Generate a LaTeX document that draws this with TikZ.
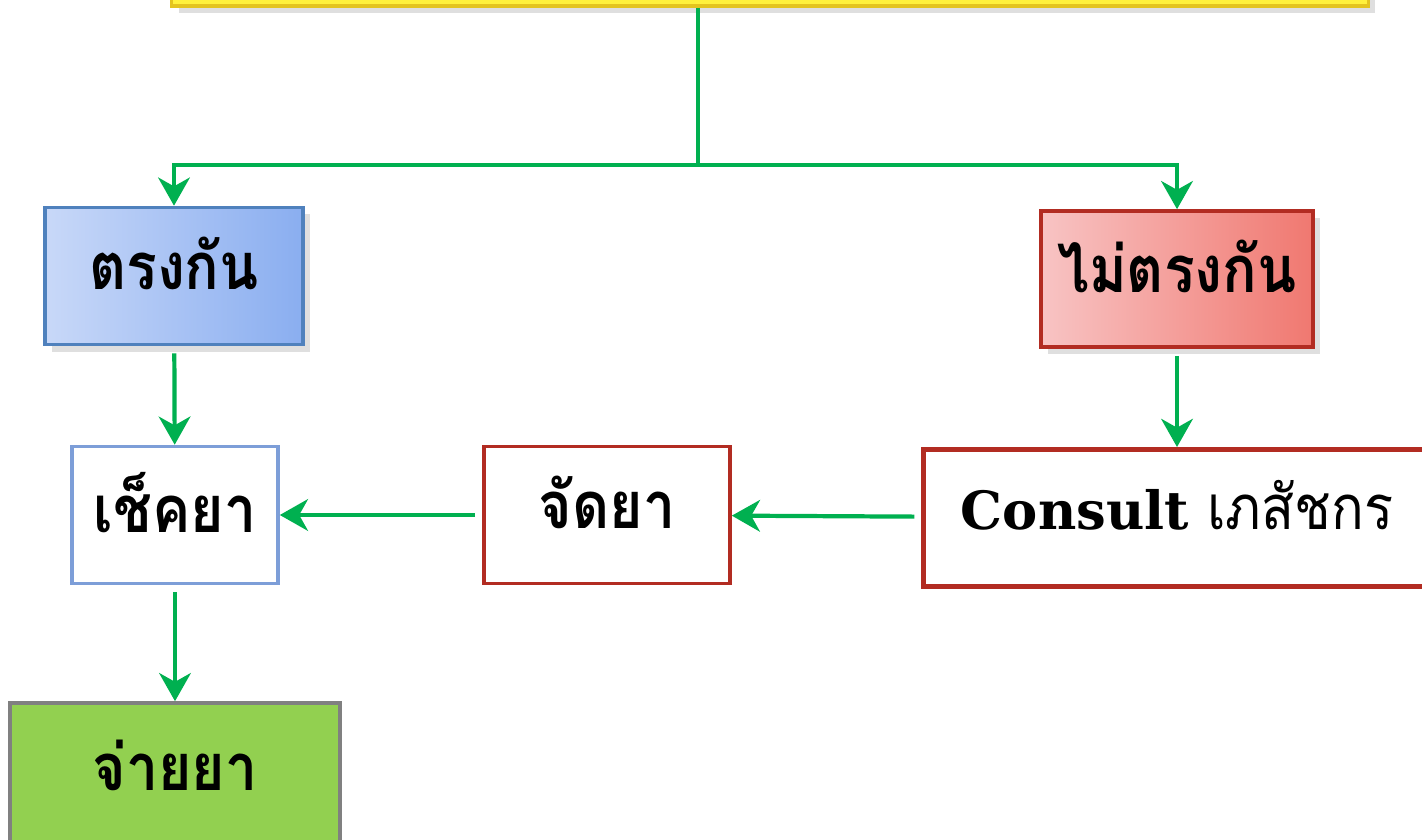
\documentclass[tikz,border=0pt]{standalone}
\usepackage{fontspec}
\newfontfamily\thaifont[Script=Thai, FakeStretch=0.88]{Loma}
\newfontfamily\slabfont{DejaVu Serif}
\usetikzlibrary{arrows.meta,shadows}

\definecolor{flowgreen}{RGB}{0,176,80}
\definecolor{boxblue}{RGB}{79,129,189}
\definecolor{lineblue}{RGB}{125,158,216}
\definecolor{boxred}{RGB}{178,44,34}
\definecolor{topyellow}{RGB}{255,241,60}
\definecolor{topedge}{RGB}{228,196,30}
\definecolor{payfill}{RGB}{146,208,80}

\begin{document}
\begin{tikzpicture}[
    x=0.01cm, y=-0.01cm,
    block/.style={draw, line width=1pt, align=center, minimum height=1.37cm, text depth=0.26cm, font=\thaifont\bfseries\fontsize{18.5}{22}\selectfont},
    shade/.style={drop shadow={opacity=0.25, shadow xshift=2pt, shadow yshift=-2pt}},
    arrow/.style={-{Stealth[length=8pt, width=9pt, inset=2.5pt]}, flowgreen, line width=1.2pt, shorten <=2pt},
    line/.style={flowgreen, line width=1.2pt}
]
\clip (0,0) rectangle (1422,840);
\fill[white] (0,0) rectangle (1422,840);

\node[block, shade, draw=topedge, fill=topyellow, minimum width=11.96cm, minimum height=0.6cm, text depth=0pt] (top) at (770,-24) {};

\node[block, shade, draw=boxblue, left color={rgb,255:red,200;green,216;blue,248}, right color={rgb,255:red,138;green,174;blue,240}, minimum width=2.58cm] (match) at (174,276) {ตรงกัน};
\node[block, shade, draw=boxred, left color={rgb,255:red,248;green,196;blue,196}, right color={rgb,255:red,240;green,120;blue,112}, minimum width=2.72cm, minimum height=1.36cm] (mismatch) at (1177,279) {ไม่ตรงกัน};

\node[block, draw=lineblue, fill=white, minimum width=2.06cm] (check) at (175,515) {เช็คยา};
\node[block, draw=boxred, fill=white, minimum width=2.46cm] (prepare) at (607,515) {จัดยา};
\node[block, draw=boxred, fill=white, line width=1.4pt, minimum width=5.06cm, font=\slabfont\bfseries\fontsize{15}{20}\selectfont] (consult) at (1177,518) {Consult {\thaifont\mdseries\fontsize{17.5}{20}\selectfont เภสัชกร}};

\node[block, draw=gray, fill=payfill, minimum width=3.3cm, minimum height=1.5cm] (pay) at (175,778) {จ่ายยา};

\coordinate (split) at (698,165);
\draw[line] (top.south -| split) -- (split);
\draw[arrow, shorten <=0pt] (split) -| (match.north);
\draw[arrow, shorten <=0pt] (split) -| (mismatch.north);
\draw[arrow] (match) -- (check);
\draw[arrow] (mismatch) -- (consult);
\draw[arrow] (consult) -- (prepare);
\draw[arrow] (prepare) -- (check);
\draw[arrow] (check) -- (pay);
\end{tikzpicture}
\end{document}
